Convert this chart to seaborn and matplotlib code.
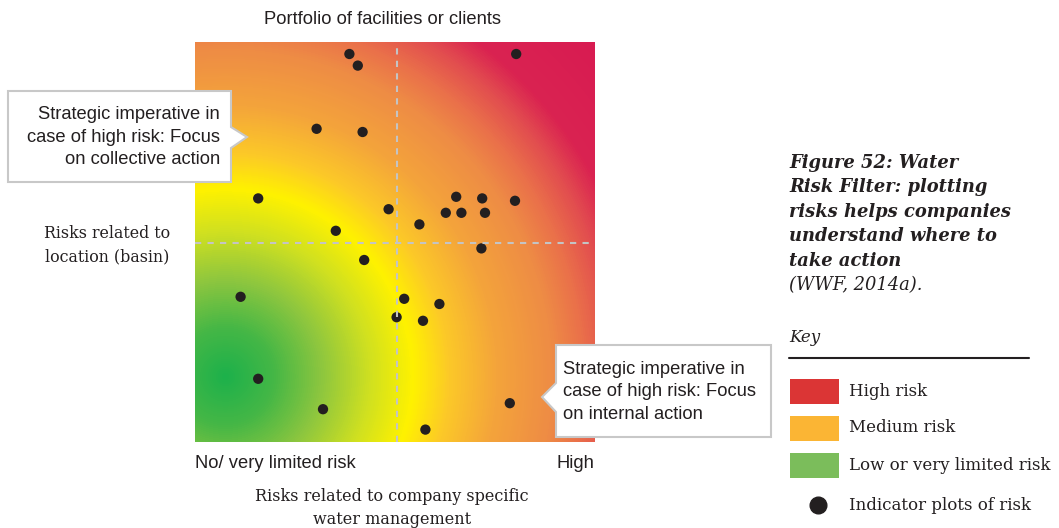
import numpy as np
import matplotlib
matplotlib.use("Agg")
import matplotlib.pyplot as plt
import seaborn as sns
from matplotlib.colors import LinearSegmentedColormap
from matplotlib.patches import Polygon, Rectangle
from matplotlib.lines import Line2D

# ---------------- data ----------------
company_risk = [38.6, 40.7, 80.3, 30.4, 41.9, 15.8, 48.4, 65.3, 71.8, 80.0, 62.7, 66.6, 72.5,
                56.1, 35.2, 71.6, 42.3, 11.4, 52.3, 61.1, 50.4, 57.0, 15.8, 78.7, 32.0, 57.6]
basin_risk = [97.0, 94.1, 97.0, 78.3, 77.5, 60.9, 58.2, 61.3, 60.9, 60.3, 57.3, 57.3, 57.3,
              54.4, 52.8, 48.4, 45.5, 36.3, 35.8, 34.5, 31.2, 30.3, 15.8, 9.7, 8.2, 3.1]
title_top = "Portfolio of facilities or clients"
x_low_label = "No/ very limited risk"
x_high_label = "High"
x_axis_label = "Risks related to company specific\nwater management"
y_axis_label = "Risks related to\nlocation (basin)"
callout_left = "Strategic imperative in\ncase of high risk: Focus\non collective action"
callout_right = "Strategic imperative in\ncase of high risk: Focus\non internal action"
caption_bold = ["Figure 52: Water", "Risk Filter: plotting", "risks helps companies",
                "understand where to", "take action"]
caption_src = "(WWF, 2014a)."
key_labels = ["High risk", "Medium risk", "Low or very limited risk", "Indicator plots of risk"]
key_colors = ["#db3535", "#fbb534", "#7bbd5b"]

W, H = 1059, 528
sns.set_theme(style="white")
plt.rcParams['font.family'] = ['Liberation Sans', 'DejaVu Sans']

fig = plt.figure(figsize=(W / 100, H / 100), dpi=100)
fig.patch.set_facecolor("white")

def fx(x):
    return x / W

def fy(y):
    return 1 - y / H

ax = fig.add_axes([fx(195), fy(442), 400 / W, 400 / H])

# background radial gradient
cx, cy = 7.5, 16.3
stops = [(0, "#1db14b"), (12, "#45b746"), (24, "#8dc63f"), (36, "#cfe021"), (47, "#fff200"),
         (56, "#fcc928"), (68, "#f4a43b"), (82, "#ee8c45"), (90, "#ea704a"), (98, "#e24c4f"),
         (105, "#da2351"), (125, "#d81b51")]
cmap = LinearSegmentedColormap.from_list("risk", [(d / 125, c) for d, c in stops])
gx, gy = np.meshgrid(np.linspace(0, 100, 400), np.linspace(0, 100, 400))
dist = np.sqrt((gx - cx) ** 2 + (gy - cy) ** 2)
ax.imshow(dist, cmap=cmap, vmin=0, vmax=125, extent=(0, 100, 0, 100), origin="lower",
          aspect="auto", interpolation="bilinear", zorder=0)

sns.scatterplot(x=company_risk, y=basin_risk, color="#231f20", s=55, edgecolor="none",
                ax=ax, zorder=3, legend=False)
ax.axvline(50.4, color="#c4c4c4", lw=1.5, ls=(0, (3, 3)), zorder=4)
ax.axhline(49.7, color="#c4c4c4", lw=1.5, ls=(0, (3, 3)), zorder=4)
ax.set_xlim(0, 100)
ax.set_ylim(0, 100)
ax.set_xticks([])
ax.set_yticks([])
for s in ax.spines.values():
    s.set_visible(False)

sans = dict(family=['Liberation Sans', 'DejaVu Sans'], color="#231f20")
serif = dict(family=['DejaVu Serif'], color="#231f20")

fig.text(fx(383), fy(20), title_top, ha="center", va="center", fontsize=13.2, **sans)
fig.text(fx(195), fy(463), x_low_label, ha="left", va="center", fontsize=13.2, **sans)
fig.text(fx(594), fy(463), x_high_label, ha="right", va="center", fontsize=13.2, **sans)
fig.text(fx(392), fy(508), x_axis_label, ha="center", va="center", fontsize=11.5,
         linespacing=1.4, **serif)
fig.text(fx(107), fy(245.5), y_axis_label, ha="center", va="center", fontsize=11.4,
         linespacing=1.5, **serif)

# callouts
def px(pts):
    return [(fx(a), fy(b)) for a, b in pts]

left_poly = Polygon(px([(8, 91), (231, 91), (231, 127), (247, 137), (231, 148), (231, 182), (8, 182)]),
                    closed=True, transform=fig.transFigure, facecolor="white",
                    edgecolor="#c8c8c8", lw=1.5, zorder=5)
fig.add_artist(left_poly)
right_poly = Polygon(px([(556, 345), (771, 345), (771, 437), (556, 437), (556, 412), (542, 397), (556, 383)]),
                     closed=True, transform=fig.transFigure, facecolor="white",
                     edgecolor="#c8c8c8", lw=1.5, zorder=5)
fig.add_artist(right_poly)
fig.text(fx(220), fy(137), callout_left, ha="right", va="center", fontsize=13.2,
         linespacing=1.45, zorder=6, **sans)
fig.text(fx(563), fy(392), callout_right, ha="left", va="center", fontsize=13.2,
         linespacing=1.45, zorder=6, **sans)

# caption
for i, line in enumerate(caption_bold):
    fig.text(fx(789), fy(163 + 24.4 * i), line, ha="left", va="center", fontsize=12.9,
             fontweight="bold", style="italic", **serif)
fig.text(fx(789), fy(285), caption_src, ha="left", va="center", fontsize=12.9,
         style="italic", **serif)

# key
fig.text(fx(789), fy(338), "Key", ha="left", va="center", fontsize=12, style="italic", **serif)
fig.add_artist(Line2D([fx(789), fx(1029)], [fy(358), fy(358)], transform=fig.transFigure,
                      color="#231f20", lw=1.5))
for i, c in enumerate(key_colors):
    top = 379 + 37 * i
    fig.add_artist(Rectangle((fx(790), fy(top + 25)), 49 / W, 25 / H, transform=fig.transFigure,
                             facecolor=c, edgecolor="none"))
    fig.text(fx(849), fy(top + 12), key_labels[i], ha="left", va="center", fontsize=12, **serif)
fig.add_artist(Line2D([fx(818)], [fy(505)], transform=fig.transFigure, marker="o",
                      markersize=12, color="#231f20", lw=0))
fig.text(fx(849), fy(505), key_labels[3], ha="left", va="center", fontsize=12, **serif)

fig.savefig("out.png", dpi=100, facecolor="white")
